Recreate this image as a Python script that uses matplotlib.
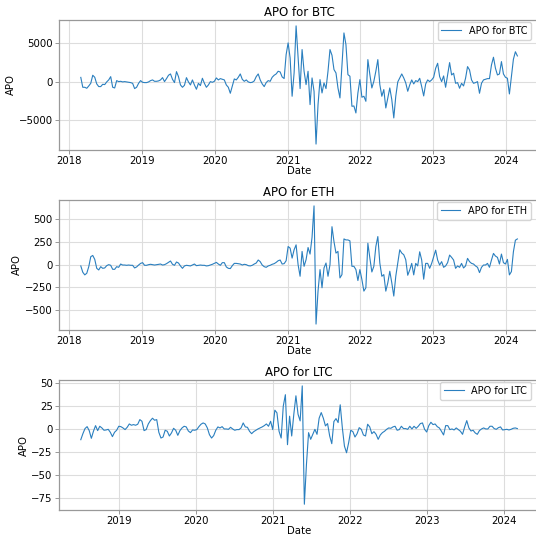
import numpy as np
import pandas as pd
import matplotlib
matplotlib.use("Agg")
import matplotlib.pyplot as plt

btc_start = "2018-03-01"
btc_apo = [550, -740, -740, -870, -565, -220, 830, 565, -300, -650,
           -650, -350, -390, -40, 220, 650, -740, -830, 130, 0,
           40, -40, 0, -40, -90, -130, -220, -910, -740, -220,
           130, -90, -130, -130, -40, 130, 220, 40, 40, 90,
           220, 520, 0, 390, 830, 1000, 300, -130, 1300, 650,
           -435, -740, -480, 520, -40, -435, 220, -435, -1000, -220,
           -520, 435, -220, -740, -435, 0, -90, 40, 480, 220,
           390, 300, 220, -435, -740, -1520, -565, 350, 220, 565,
           1000, 300, 40, 220, -40, -130, -90, 90, 650, 1000,
           220, -300, -650, -130, 130, 40, 565, 830, 1000, 1350,
           1260, 610, 400, 3520, 5050, 3090, -1910, 1130, 7270, 3090,
           -910, 4180, 1350, -390, 1350, -3000, 480, -1260, -8150, -3000,
           260, -1480, -170, -910, 1350, 4180, 3440, 1570, 1130, -830,
           -2130, 2220, 6350, 4830, 910, 700, -3220, -3180, -4090, -1480,
           260, -2040, -1910, -2570, 2870, 910, -830, 40, 1350, 2870,
           -390, -1910, -1040, -3440, -2130, -830, -2350, -4740, -1910, -40,
           480, 1000, 480, -170, -1260, -435, 220, -300, 130, 0,
           435, -650, -1870, -300, 220, 0, 220, 565, 1740, 2390,
           650, 0, 740, -740, 870, 2480, 870, 1090, -220, -130,
           -870, -220, -565, 435, 1960, 1520, 220, -220, -130, 0,
           -1520, -220, 220, 300, 390, 390, 2170, 3180, 1740, 870,
           1000, 2610, 1000, 565, 435, -1610, 650, 2910, 3900, 3350]

eth_start = "2018-03-01"
eth_apo = [-14, -83, -112, -94, -22, 87, 101, 58, -40, -58,
           -22, -40, -36, -11, 0, -7, -51, -51, -22, -29,
           7, -4, -4, -7, -4, -7, -7, -36, -25, -4,
           14, 22, -7, -7, 0, 4, 0, -4, 0, 4,
           7, -4, 0, 11, 25, 40, 4, -7, 29, 18,
           -14, -40, -14, -7, -11, -14, -4, 7, -11, -7,
           -4, -7, -7, -14, -11, -4, 4, 14, 25, 7,
           -7, 22, 22, -25, -40, -43, -11, 14, 14, 11,
           7, -4, 4, 0, -11, -14, -7, 7, 18, 51,
           33, -4, -22, -29, -14, -7, 4, 11, 25, 43,
           51, 7, 11, 43, 199, 181, 72, 163, 217, 0,
           -127, 145, -18, 54, 188, 116, 300, 644, -651, -290,
           -54, -253, -36, 18, -127, 0, 416, 253, 127, 145,
           -145, -109, 282, 271, 271, 261, -18, -18, -54, -174,
           -54, -163, -290, -253, 235, 72, -80, -18, 199, 308,
           18, -127, -109, -290, -199, -72, -199, -344, -127, 18,
           163, 127, 109, 54, -116, -58, 14, -112, 14, -14,
           141, 51, -159, 14, 14, -40, 14, 87, 159, 51,
           -4, 33, -29, -14, 22, 105, 80, 51, -40, -14,
           -29, 14, -36, -14, 69, 33, 14, 7, -14, -29,
           -87, -29, -4, -4, 14, -29, 51, 123, 94, 80,
           7, 116, 22, 7, 58, -112, -76, 141, 268, 282]

ltc_start = "2018-07-04"
ltc_apo = [-11.6, -5.1, 0.4, 2.5, -1.8, -10.1, -2.5, 3.6, -1.8, 2.9,
           1.1, -1.4, -1.1, -0.4, -3.6, -8.3, -3.6, -1.4, 2.9, 2.5,
           1.1, -0.7, 1.8, 5.4, 4.0, 4.7, 4.0, 5.1, 10.1, 8.3,
           -1.8, -0.7, 5.4, 9.0, 11.6, 9.4, 10.1, -3.6, -9.8, -8.7,
           -1.4, -2.5, -7.6, -4.3, 0.7, -1.4, -6.9, -1.8, 1.1, 2.9,
           2.2, -2.2, -4.0, -1.1, -1.4, -0.7, 2.5, 5.1, 6.5, 5.4,
           1.1, -6.2, -9.8, -7.2, -1.4, 2.2, 1.1, 2.5, 0.0, 0.0,
           -0.4, 1.8, 0.0, -1.4, -0.7, -0.7, 1.1, 6.5, 2.2, 1.8,
           -2.5, -5.1, -2.9, -1.4, 0.0, 1.1, 2.2, 3.6, 5.4, 2.9,
           8.3, -0.7, 20.3, 17.4, -2.5, -9.8, 24.6, 37.0, -17.0, 13.8,
           -7.6, 15.9, 35.8, 15.9, 8.7, 46.5, -81.3, -38.0, -4.0, -11.2,
           -5.8, -0.4, -5.8, 11.6, 17.7, 11.6, 3.3, 5.8, -7.6, -15.9,
           8.0, 11.2, 6.9, 26.1, 1.4, -18.5, -25.7, -14.8, -1.4, -2.9,
           -8.7, -5.1, 1.4, -0.4, -6.5, -7.6, 5.1, 2.2, -5.1, -2.9,
           -5.8, -11.2, -6.5, -4.0, -2.5, -0.4, 1.1, 0.7, 2.2, 2.9,
           -1.4, -0.7, 2.9, 0.4, 0.4, -0.4, 2.9, 0.0, 2.9, 0.7,
           2.9, 5.8, 6.5, -0.4, -3.3, 3.6, 7.2, 4.7, 5.4, 2.5,
           1.1, -2.5, -6.5, 3.6, 3.6, -0.7, 0.0, -1.1, 1.1, -0.7,
           -2.5, -5.8, 2.2, 9.0, 1.1, -2.2, -1.4, -4.3, -5.8, -1.8,
           0.0, 1.1, 0.0, 0.0, 2.9, 2.9, 0.4, -0.4, 1.4, 2.2,
           -1.1, -0.7, -0.4, -1.1, -0.4, 0.7, 1.1, 0.4]

coins = ["BTC", "ETH", "LTC"]
starts = [btc_start, eth_start, ltc_start]
series = [btc_apo, eth_apo, ltc_apo]
yticks = [[-5000, 0, 5000], [-500, -250, 0, 250, 500], [-75, -50, -25, 0, 25, 50]]

fig = plt.figure(figsize=(5.36, 5.37), dpi=100)
# axes boxes (left, bottom, width, height); right edge runs past the crop like the reference
boxes = [(0.110, 0.7207, 0.896, 0.2421),
         (0.110, 0.3855, 0.896, 0.2421),
         (0.110, 0.0500, 0.896, 0.2424)]

for coin, start, vals, yt, box in zip(coins, starts, series, yticks, boxes):
    ax = fig.add_axes(box)
    dates = pd.date_range(start, periods=len(vals), freq="10D")
    ax.plot(dates, vals, color="#2a7fbf", linewidth=0.8, label=f"APO for {coin}")
    ax.set_title(f"APO for {coin}", fontsize=8.5, pad=3)
    ax.set_xlabel("Date", fontsize=7.3, labelpad=0)
    ax.set_ylabel("APO", fontsize=7.3, labelpad=2)
    ax.set_yticks(yt)
    ax.grid(True, color="#dddddd", linewidth=0.8)
    ax.tick_params(labelsize=7.3, length=3, width=0.6, color="#888888", pad=1.5)
    for s in ax.spines.values():
        s.set_color("#999999")
        s.set_linewidth(0.9)
    ax.legend(loc="upper right", bbox_to_anchor=(0.983, 0.985), borderaxespad=0,
              fontsize=7)

fig.savefig("out.png", dpi=100)
